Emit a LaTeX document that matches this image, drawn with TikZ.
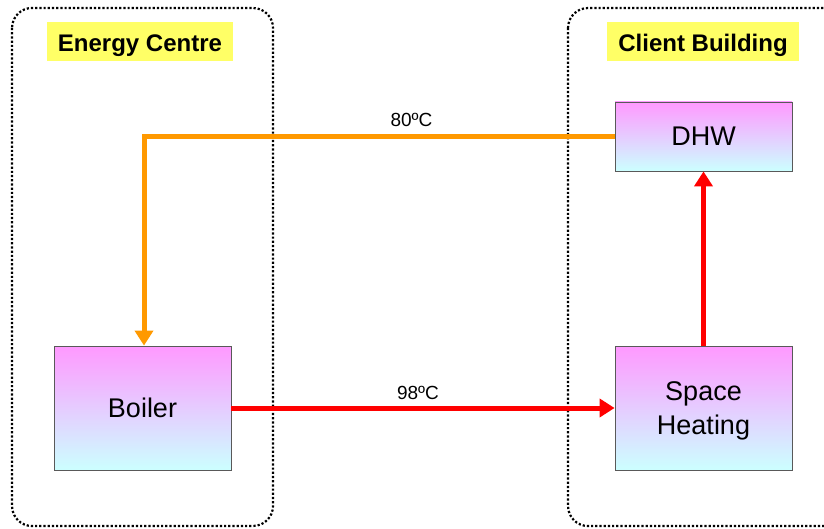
\documentclass[tikz,border=0pt]{standalone}
\usepackage{fontspec}
\setmainfont{Liberation Sans}
\usetikzlibrary{arrows.meta}
\definecolor{pipeorange}{RGB}{255,153,0}
\definecolor{pipered}{RGB}{255,0,0}
\definecolor{unittop}{RGB}{255,153,255}
\definecolor{unitbottom}{RGB}{204,255,255}
\definecolor{labelyellow}{RGB}{255,255,102}
\begin{document}
\begin{tikzpicture}[x=1pt,y=-1pt,
  zone/.style={draw=black,line width=2.2pt,dotted,rounded corners=20pt},
  zonelabel/.style={fill=labelyellow,inner sep=0pt,minimum height=39pt,text height=25pt,text depth=4pt,
    font=\bfseries\fontsize{24}{28}\selectfont},
  unit/.style={draw=black!65,line width=0.8pt,top color=unittop,bottom color=unitbottom,inner sep=0pt,
    font=\fontsize{27}{34}\selectfont,align=center},
  flow/.style={line width=5pt,-{Triangle[length=15pt,width=18pt]}},
  temp/.style={font=\fontsize{19}{22}\selectfont,inner sep=1pt}]
\useasboundingbox (0,0) rectangle (824,529);
\clip (0,0) rectangle (824,529);
% site boundaries
\draw[zone] (12,8) rectangle (273,526);
\draw[zone] (568,8) rectangle (860,526);
\node[zonelabel,minimum width=186pt] (ec) at (140,41.5) {Energy Centre};
\node[zonelabel,minimum width=192pt] (cb) at (703,41.5) {Client Building};
% plant items
\node[unit,minimum width=177pt,minimum height=69pt] (dhw) at (703.5,136.5) {DHW};
\node[unit,minimum width=177pt,minimum height=124pt] (boiler) at (142.5,408) {Boiler};
\node[unit,minimum width=177pt,minimum height=124pt] (sh) at (703.5,408) {};
\node[font=\fontsize{27}{34}\selectfont,align=center,inner sep=0pt] (shtext) at (703.5,411) {Space\\Heating};
% pipework
\coordinate (bend) at (144,136.5);
\draw[flow,draw=pipeorange,color=pipeorange] (dhw.west) -- (bend) -- (bend |- boiler.north);
\draw[flow,pipered] (boiler.east) -- (sh.west);
\draw[flow,pipered] (sh.north) -- (dhw.south);
\node[temp] (t80) at (411.5,119.5) {80ºC};
\node[temp] (t98) at (418,392.5) {98ºC};
\end{tikzpicture}
\end{document}
